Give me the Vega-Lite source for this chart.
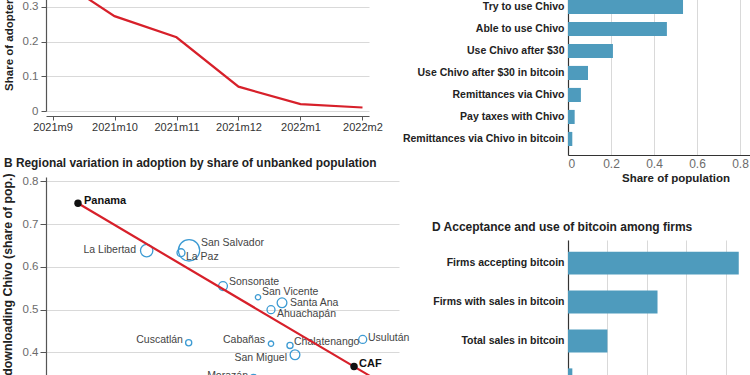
{
  "$schema": "https://vega.github.io/schema/vega-lite/v6.json",
  "padding": {"left": 1, "top": -34, "right": 0, "bottom": 0},
  "background": "white",
  "datasets": {
    "adoption": [
      {"month": "2021m9", "share": 0.39},
      {"month": "2021m10", "share": 0.273},
      {"month": "2021m11", "share": 0.212},
      {"month": "2021m12", "share": 0.07},
      {"month": "2022m1", "share": 0.02},
      {"month": "2022m2", "share": 0.01}
    ],
    "usage": [
      {"item": "Try to use Chivo", "share": 0.535},
      {"item": "Able to use Chivo", "share": 0.46},
      {"item": "Use Chivo after $30", "share": 0.209},
      {"item": "Use Chivo after $30 in bitcoin", "share": 0.093},
      {"item": "Remittances via Chivo", "share": 0.06},
      {"item": "Pay taxes with Chivo", "share": 0.031},
      {"item": "Remittances via Chivo in bitcoin", "share": 0.02}
    ],
    "firms": [
      {"item": "Firms accepting bitcoin", "share": 0.2167},
      {"item": "Firms with sales in bitcoin", "share": 0.1136},
      {"item": "Total sales in bitcoin", "share": 0.05},
      {"item": "Total sales held in bitcoin", "share": 0.0055}
    ],
    "regions": [
      {"name": "La Libertad", "unbanked": 0.5426, "adoption": 0.638, "pop": 590, "lx": 0.5275, "ly": 0.6386, "side": "left"},
      {"name": "San Salvador", "unbanked": 0.6026, "adoption": 0.6386, "pop": 1740, "lx": 0.6195, "ly": 0.655, "side": "right"},
      {"name": "La Paz", "unbanked": 0.5912, "adoption": 0.633, "pop": 245, "lx": 0.5983, "ly": 0.6222, "side": "right"},
      {"name": "Sonsonate", "unbanked": 0.6507, "adoption": 0.555, "pop": 300, "lx": 0.6592, "ly": 0.5637, "side": "right"},
      {"name": "San Vicente", "unbanked": 0.7003, "adoption": 0.529, "pop": 110, "lx": 0.7059, "ly": 0.5404, "side": "right"},
      {"name": "Santa Ana", "unbanked": 0.7343, "adoption": 0.516, "pop": 365, "lx": 0.7456, "ly": 0.5146, "side": "right"},
      {"name": "Ahuachapán", "unbanked": 0.7187, "adoption": 0.4999, "pop": 245, "lx": 0.7272, "ly": 0.4896, "side": "right"},
      {"name": "Cuscatlán", "unbanked": 0.6021, "adoption": 0.4227, "pop": 145, "lx": 0.594, "ly": 0.4281, "side": "left"},
      {"name": "Cabañas", "unbanked": 0.7187, "adoption": 0.4204, "pop": 110, "lx": 0.7102, "ly": 0.4281, "side": "left"},
      {"name": "Chalatenango", "unbanked": 0.7456, "adoption": 0.4164, "pop": 145, "lx": 0.7513, "ly": 0.4234, "side": "right"},
      {"name": "Usulután", "unbanked": 0.8486, "adoption": 0.4304, "pop": 245, "lx": 0.8561, "ly": 0.4327, "side": "right"},
      {"name": "San Miguel", "unbanked": 0.7527, "adoption": 0.3946, "pop": 365, "lx": 0.7414, "ly": 0.3867, "side": "left"},
      {"name": "Morazán", "unbanked": 0.6939, "adoption": 0.3415, "pop": 145, "lx": 0.6861, "ly": 0.3439, "side": "left"}
    ],
    "countries": [
      {"name": "Panama", "unbanked": 0.4453, "adoption": 0.7485, "lx": 0.4538, "ly": 0.7532},
      {"name": "CAF", "unbanked": 0.8363, "adoption": 0.367, "lx": 0.8434, "ly": 0.372}
    ],
    "fit": [
      {"unbanked": 0.4453, "adoption": 0.7485},
      {"unbanked": 0.87, "adoption": 0.334}
    ]
  },
  "config": {
    "view": {"stroke": null},
    "font": "Liberation Sans",
    "axis": {
      "labelFont": "Liberation Sans",
      "titleFont": "Liberation Sans",
      "labelFontSize": 11.5,
      "labelColor": "#6b6b6b",
      "titleColor": "#222",
      "titleFontSize": 11.5,
      "titleFontWeight": "bold",
      "gridColor": "#d9d9d9",
      "domainColor": "#555",
      "tickColor": "#555",
      "domainWidth": 1.2
    },
    "title": {"font": "Liberation Sans", "fontSize": 11, "fontWeight": "bold", "color": "#222", "anchor": "start", "frame": "group"}
  },
  "spacing": -8,
  "hconcat": [
    {
      "spacing": 25,
      "vconcat": [
        {
          "width": 323,
          "height": 139,
          "data": {"name": "adoption"},
          "mark": {"type": "line", "color": "#d7202a", "strokeWidth": 2.2, "clip": true},
          "encoding": {
            "x": {
              "field": "month", "type": "ordinal", "sort": null,
              "scale": {"type": "point", "padding": 0.105},
              "axis": {"title": null, "labelAngle": 0, "offset": 5, "labelColor": "#333", "labelFontSize": 11, "tickSize": 4, "labelPadding": 1}
            },
            "y": {
              "field": "share", "type": "quantitative",
              "scale": {"domain": [0, 0.4], "nice": false},
              "axis": {"title": "Share of adopters", "values": [0, 0.1, 0.2, 0.3, 0.4], "grid": true, "tickSize": 5, "labelPadding": 3, "titlePadding": 8,
                "labelExpr": "datum.value == 0 ? '0' : format(datum.value, '.1f')"}
            }
          }
        },
        {
          "width": 353,
          "height": 261,
          "title": {"text": "B Regional variation in adoption by share of unbanked population", "dx": -42, "offset": 3, "fontSize": 11.9},
          "encoding": {
            "x": {"type": "quantitative", "scale": {"domain": [0.4, 0.9], "nice": false, "zero": false}, "axis": {"title": null, "grid": false}},
            "y": {"type": "quantitative", "scale": {"domain": [0.2, 0.81], "nice": false, "zero": false},
              "axis": {"title": "downloading Chivo (share of pop.)", "titleAnchor": "end", "titleY": -4, "titleFontSize": 12.3, "values": [0.2, 0.3, 0.4, 0.5, 0.6, 0.7, 0.8], "grid": true, "tickSize": 6, "labelPadding": 2, "titlePadding": 8,
                "labelExpr": "format(datum.value, '.1f')"}}
          },
          "layer": [
            {
              "data": {"name": "regions"},
              "mark": {"type": "point", "shape": "circle", "filled": false, "stroke": "#3d9bd3", "strokeWidth": 1.3, "opacity": 1},
              "encoding": {
                "x": {"field": "unbanked"},
                "y": {"field": "adoption"},
                "size": {"field": "pop", "type": "quantitative", "scale": {"domain": [0, 2000], "range": [0, 520]}, "legend": null}
              }
            },
            {
              "data": {"name": "regions"},
              "transform": [{"filter": "datum.side == 'left'"}],
              "mark": {"type": "text", "align": "right", "baseline": "middle", "fontSize": 10.5, "color": "#444"},
              "encoding": {"x": {"field": "lx"}, "y": {"field": "ly"}, "text": {"field": "name"}}
            },
            {
              "data": {"name": "regions"},
              "transform": [{"filter": "datum.side == 'right'"}],
              "mark": {"type": "text", "align": "left", "baseline": "middle", "fontSize": 10.5, "color": "#444"},
              "encoding": {"x": {"field": "lx"}, "y": {"field": "ly"}, "text": {"field": "name"}}
            },
            {
              "data": {"name": "fit"},
              "mark": {"type": "line", "color": "#d7202a", "strokeWidth": 2.2},
              "encoding": {"x": {"field": "unbanked"}, "y": {"field": "adoption"}}
            },
            {
              "data": {"name": "countries"},
              "mark": {"type": "circle", "color": "#111", "size": 55, "opacity": 1},
              "encoding": {"x": {"field": "unbanked"}, "y": {"field": "adoption"}}
            },
            {
              "data": {"name": "countries"},
              "mark": {"type": "text", "align": "left", "baseline": "middle", "fontSize": 11, "fontWeight": "bold", "color": "#111"},
              "encoding": {"x": {"field": "lx"}, "y": {"field": "ly"}, "text": {"field": "name"}}
            }
          ]
        }
      ]
    },
    {
      "spacing": 37,
      "vconcat": [
        {
          "width": 215,
          "height": 183,
          "data": {"name": "usage"},
          "mark": {"type": "bar", "color": "#4e9bbd"},
          "encoding": {
            "y": {"field": "item", "type": "nominal", "sort": null,
              "scale": {"paddingInner": 0.36, "paddingOuter": 0.84, "align": 0.756},
              "axis": {"title": null, "ticks": false, "labelColor": "#222", "labelFontSize": 10.5, "labelFontWeight": "bold", "labelPadding": 4, "domainColor": "#333"}},
            "x": {"field": "share", "type": "quantitative", "scale": {"domain": [0, 1], "nice": false},
              "axis": {"title": "Share of population", "values": [0, 0.2, 0.4, 0.6, 0.8, 1], "ticks": false, "grid": true, "labelFontSize": 12, "labelPadding": 3, "titlePadding": 3, "domainColor": "#333",
                "labelExpr": "datum.value == 0 ? '0' : format(datum.value, '.1f')"}}
          }
        },
        {
          "width": 197,
          "height": 163,
          "title": {"text": "D Acceptance and use of bitcoin among firms", "dx": -136, "offset": 6, "fontSize": 12},
          "data": {"name": "firms"},
          "mark": {"type": "bar", "color": "#4e9bbd"},
          "encoding": {
            "y": {"field": "item", "type": "nominal", "sort": null,
              "scale": {"paddingInner": 0.41, "paddingOuter": 0.3},
              "axis": {"title": null, "ticks": false, "labelColor": "#222", "labelFontSize": 10.5, "labelFontWeight": "bold", "labelPadding": 4, "domainColor": "#333"}},
            "x": {"field": "share", "type": "quantitative", "scale": {"domain": [0, 0.25], "nice": false},
              "axis": {"title": null, "values": [0, 0.05, 0.1, 0.15, 0.2, 0.25], "ticks": false, "grid": true}}
          }
        }
      ]
    }
  ]
}
